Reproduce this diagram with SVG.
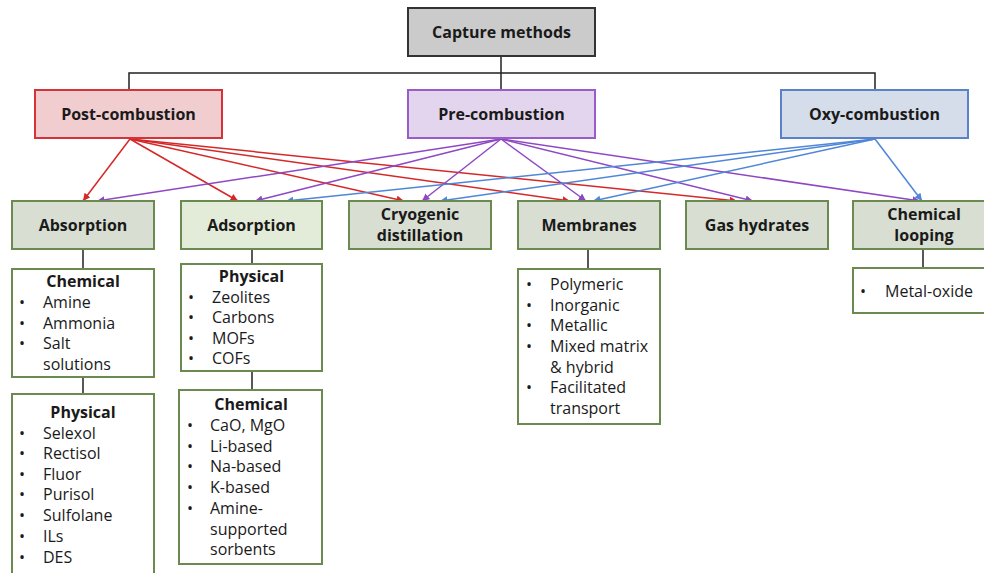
<svg xmlns="http://www.w3.org/2000/svg" width="984" height="573" viewBox="0 0 984 573">
<style>
text{font-family:"Open Sans","Liberation Sans",sans-serif;font-size:16px;fill:#1a1a1a}
.b{font-weight:bold;text-anchor:middle}
.c{text-anchor:middle}
.top{fill:#cbcbcb;stroke:#333;stroke-width:2}
.post{fill:#f2cdd0;stroke:#d6323a;stroke-width:2}
.pre{fill:#e4d5ee;stroke:#9a5cc8;stroke-width:2}
.oxy{fill:#d5dcea;stroke:#5b82c8;stroke-width:2}
.g{fill:#d8ded2;stroke:#6a8a50;stroke-width:2}
.gl{fill:#e3ecd9;stroke:#6a8a50;stroke-width:2}
.l{fill:#fff;stroke:#6a8a50;stroke-width:2}
.k{stroke:#222;stroke-width:1.5;fill:none}
.r{stroke:#d62828;stroke-width:1.5;marker-end:url(#mr)}
.p{stroke:#8e48c4;stroke-width:1.5;marker-end:url(#mp)}
.u{stroke:#4f86d8;stroke-width:1.5;marker-end:url(#mu)}
</style>
<defs>
<marker id="mr" viewBox="0 0 10 10" refX="10" refY="5" markerWidth="5" markerHeight="5" orient="auto" markerUnits="strokeWidth"><path d="M0,0L10,5L0,10z" fill="#d62828"/></marker>
<marker id="mp" viewBox="0 0 10 10" refX="10" refY="5" markerWidth="5" markerHeight="5" orient="auto" markerUnits="strokeWidth"><path d="M0,0L10,5L0,10z" fill="#8e48c4"/></marker>
<marker id="mu" viewBox="0 0 10 10" refX="10" refY="5" markerWidth="5" markerHeight="5" orient="auto" markerUnits="strokeWidth"><path d="M0,0L10,5L0,10z" fill="#4f86d8"/></marker>
</defs>
<g id="connectors">
<path class="k" d="M501,56V90M129,90V73H875V90"/>
<path class="k" d="M83,249V269M83,377V394M252,249V264M252,371V390M588,249V269M923,249V268"/>
<line class="r" x1="130" y1="139" x2="83" y2="201"/>
<line class="r" x1="130" y1="139" x2="238" y2="201"/>
<line class="r" x1="130" y1="139" x2="404" y2="201"/>
<line class="r" x1="130" y1="139" x2="570" y2="201"/>
<line class="r" x1="130" y1="139" x2="737" y2="201"/>
<line class="p" x1="501" y1="139" x2="97" y2="201"/>
<line class="p" x1="501" y1="139" x2="255" y2="201"/>
<line class="p" x1="501" y1="139" x2="422" y2="201"/>
<line class="p" x1="501" y1="139" x2="586" y2="201"/>
<line class="p" x1="501" y1="139" x2="753" y2="201"/>
<line class="p" x1="501" y1="139" x2="920" y2="201"/>
<line class="u" x1="875" y1="139" x2="286" y2="201"/>
<line class="u" x1="875" y1="139" x2="440" y2="201"/>
<line class="u" x1="875" y1="139" x2="593" y2="201"/>
<line class="u" x1="875" y1="139" x2="922" y2="201"/>
</g>
<g id="capture"><rect class="top" x="408" y="8" width="187" height="48"/><text class="b" x="501.5" y="38">Capture methods</text></g>
<g id="post"><rect class="post" x="35" y="90" width="187" height="48"/><text class="b" x="128.5" y="120">Post-combustion</text></g>
<g id="pre"><rect class="pre" x="408" y="90" width="187" height="48"/><text class="b" x="501.5" y="120">Pre-combustion</text></g>
<g id="oxy"><rect class="oxy" x="781" y="90" width="187" height="48"/><text class="b" x="874.5" y="120">Oxy-combustion</text></g>
<g id="absorption"><rect class="g" x="12" y="201" width="142" height="48"/><text class="b" x="83" y="231">Absorption</text></g>
<g id="adsorption"><rect class="gl" x="181" y="201" width="141" height="48"/><text class="b" x="251.5" y="231">Adsorption</text></g>
<g id="cryogenic"><rect class="g" x="349" y="201" width="142" height="48"/><text class="b" x="420" y="220">Cryogenic</text><text class="b" x="420" y="241">distillation</text></g>
<g id="membranes"><rect class="g" x="518" y="201" width="142" height="48"/><text class="b" x="589" y="231">Membranes</text></g>
<g id="hydrates"><rect class="g" x="686" y="201" width="142" height="48"/><text class="b" x="757" y="231">Gas hydrates</text></g>
<g id="looping"><rect class="g" x="853" y="201" width="142" height="48"/><text class="b" x="924" y="220">Chemical</text><text class="b" x="924" y="241">looping</text></g>
<g id="abs-chem"><rect class="l" x="12" y="269" width="142" height="108"/>
<text class="b" x="83" y="287">Chemical</text>
<text x="19" y="308">•</text><text x="43" y="308">Amine</text>
<text x="19" y="329">•</text><text x="43" y="329">Ammonia</text>
<text x="19" y="349">•</text><text x="43" y="349">Salt</text>
<text x="43" y="370">solutions</text></g>
<g id="abs-phys"><rect class="l" x="12" y="394" width="142" height="190"/>
<text class="b" x="83" y="418">Physical</text>
<text x="19" y="439">•</text><text x="43" y="439">Selexol</text>
<text x="19" y="459">•</text><text x="43" y="459">Rectisol</text>
<text x="19" y="480">•</text><text x="43" y="480">Fluor</text>
<text x="19" y="500">•</text><text x="43" y="500">Purisol</text>
<text x="19" y="521">•</text><text x="43" y="521">Sulfolane</text>
<text x="19" y="542">•</text><text x="43" y="542">ILs</text>
<text x="19" y="563">•</text><text x="43" y="563">DES</text></g>
<g id="ads-phys"><rect class="l" x="181" y="264" width="141" height="107"/>
<text class="b" x="251.5" y="282">Physical</text>
<text x="188" y="303">•</text><text x="212" y="303">Zeolites</text>
<text x="188" y="323">•</text><text x="212" y="323">Carbons</text>
<text x="188" y="344">•</text><text x="212" y="344">MOFs</text>
<text x="188" y="364">•</text><text x="212" y="364">COFs</text></g>
<g id="ads-chem"><rect class="l" x="179" y="390" width="143" height="174"/>
<text class="b" x="251" y="410">Chemical</text>
<text x="187" y="431">•</text><text x="210" y="431">CaO, MgO</text>
<text x="187" y="452">•</text><text x="210" y="452">Li-based</text>
<text x="187" y="472">•</text><text x="210" y="472">Na-based</text>
<text x="187" y="493">•</text><text x="210" y="493">K-based</text>
<text x="187" y="514">•</text><text x="210" y="514">Amine-</text>
<text x="210" y="535">supported</text>
<text x="210" y="555">sorbents</text></g>
<g id="mem-list"><rect class="l" x="518" y="269" width="142" height="155"/>
<text x="526" y="290">•</text><text x="550" y="290">Polymeric</text>
<text x="526" y="311">•</text><text x="550" y="311">Inorganic</text>
<text x="526" y="331">•</text><text x="550" y="331">Metallic</text>
<text x="526" y="352">•</text><text x="550" y="352">Mixed matrix</text>
<text x="550" y="373">&amp; hybrid</text>
<text x="526" y="393">•</text><text x="550" y="393">Facilitated</text>
<text x="550" y="414">transport</text></g>
<g id="loop-list"><rect class="l" x="853" y="268" width="142" height="45"/>
<text x="860" y="297">•</text><text x="885" y="297">Metal-oxide</text></g>
</svg>
